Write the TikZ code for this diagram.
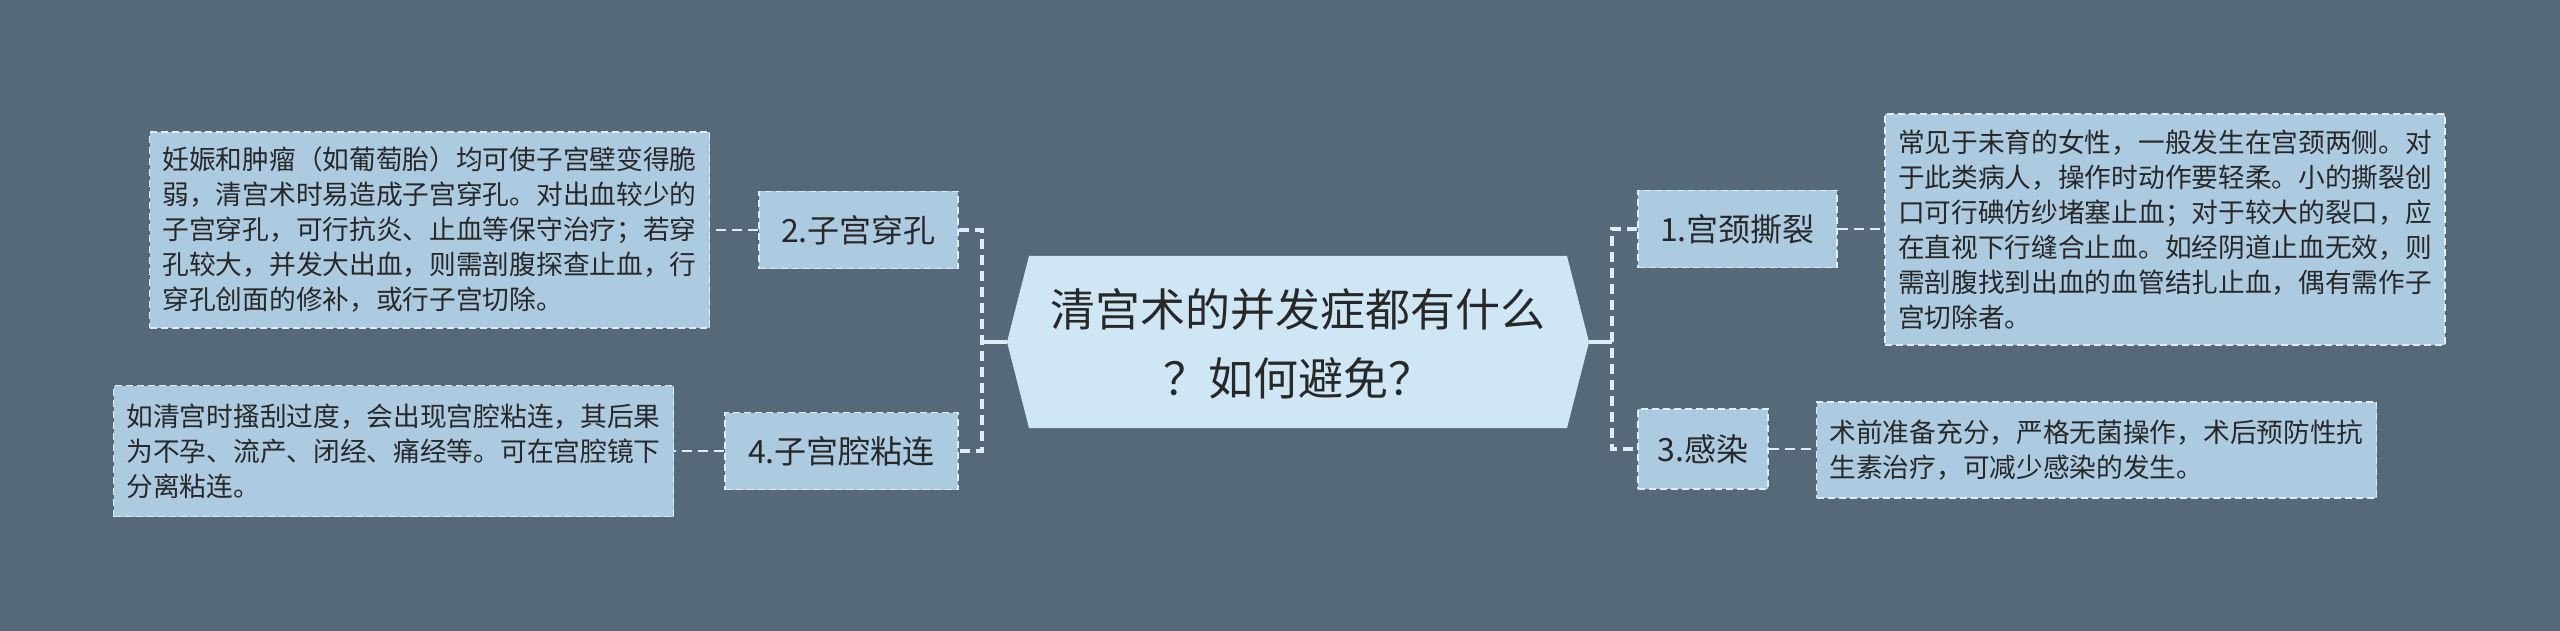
\documentclass[tikz,border=0pt]{standalone}
\usepackage{fontspec}
\setmainfont{Noto Sans CJK SC}
\definecolor{bg}{RGB}{85,105,121}
\definecolor{boxfill}{RGB}{172,203,225}
\definecolor{rootfill}{RGB}{207,230,244}
\definecolor{edge}{RGB}{222,237,246}
\definecolor{ink}{RGB}{40,40,40}
\tikzset{
  detail/.style={fill=boxfill, draw=edge, line width=1.8pt, dash pattern=on 7pt off 4pt,
    text=ink, align=left, text width=534pt, inner xsep=13pt, inner ysep=0pt,
    font=\fontsize{26.7pt}{35pt}\selectfont},
  topic/.style={fill=boxfill, draw=edge, line width=1.8pt, dash pattern=on 7pt off 4pt,
    text=ink, inner xsep=0pt, inner ysep=0pt, minimum height=77pt,
    font=\fontsize{32pt}{38pt}\selectfont},
  roottext/.style={text=ink, align=center, inner sep=0pt,
    font=\fontsize{45pt}{69pt}\selectfont},
  solidc/.style={draw=edge, line width=3.2pt},
  dashc/.style={draw=edge, line width=3.2pt, dash pattern=on 10pt off 6pt},
  linkc/.style={draw=edge, line width=2.6pt, dash pattern=on 10pt off 6pt},
}
\begin{document}
\begin{tikzpicture}[x=1pt,y=-1pt]
\fill[bg] (0,0) rectangle (2560,631);
\useasboundingbox (0,0) rectangle (2560,631);

% central hexagon
\fill[rootfill] (1007,342) -- (1029,256) -- (1567,256) -- (1589,342) -- (1567,428) -- (1029,428) -- cycle;
\coordinate (rootL) at (1007,342);
\coordinate (rootR) at (1589,342);
\node[roottext] (root) at (1298,344) {清宫术的并发症都有什么\\？如何避免？};

% topics
\node[topic, minimum width=199pt] (n2) at (858.5,230) {2.子宫穿孔};
\node[topic, minimum width=233pt] (n4) at (841.5,451) {4.子宫腔粘连};
\node[topic, minimum width=199pt] (n1) at (1737.5,229) {1.宫颈撕裂};
\node[topic, minimum width=130pt, minimum height=80pt] (n3) at (1703,449) {3.感染};

% details
\node[detail, minimum height=196pt] (d2) at (429.5,230) {妊娠和肿瘤（如葡萄胎）均可使子宫壁变得脆\\弱，清宫术时易造成子宫穿孔。对出血较少的\\子宫穿孔，可行抗炎、止血等保守治疗；若穿\\孔较大，并发大出血，则需剖腹探查止血，行\\穿孔创面的修补，或行子宫切除。};
\node[detail, minimum height=131pt] (d4) at (393.5,451) {如清宫时搔刮过度，会出现宫腔粘连，其后果\\为不孕、流产、闭经、痛经等。可在宫腔镜下\\分离粘连。};
\node[detail, minimum height=231pt] (d1) at (2165,229.5) {常见于未育的女性，一般发生在宫颈两侧。对\\于此类病人，操作时动作要轻柔。小的撕裂创\\口可行碘仿纱堵塞止血；对于较大的裂口，应\\在直视下行缝合止血。如经阴道止血无效，则\\需剖腹找到出血的血管结扎止血，偶有需作子\\宫切除者。};
\node[detail, minimum height=96pt] (d3) at (2096.5,450) {术前准备充分，严格无菌操作，术后预防性抗\\生素治疗，可减少感染的发生。};

% trunks
\coordinate (tl) at (982,342);
\coordinate (tr) at (1612,342);
\draw[solidc] (rootL) -- (tl);
\draw[solidc] (rootR) -- (tr);
\draw[dashc] (n2.east) -| (tl) |- (n4.east);
\draw[dashc] (n1.west) -| (tr) |- (n3.west);

% links to details
\draw[linkc] (n2.west) -- (n2.west -| d2.east);
\draw[linkc] (n4.west) -- (n4.west -| d4.east);
\draw[linkc] (n1.east) -- (n1.east -| d1.west);
\draw[linkc] (n3.east) -- (n3.east -| d3.west);
\end{tikzpicture}
\end{document}
